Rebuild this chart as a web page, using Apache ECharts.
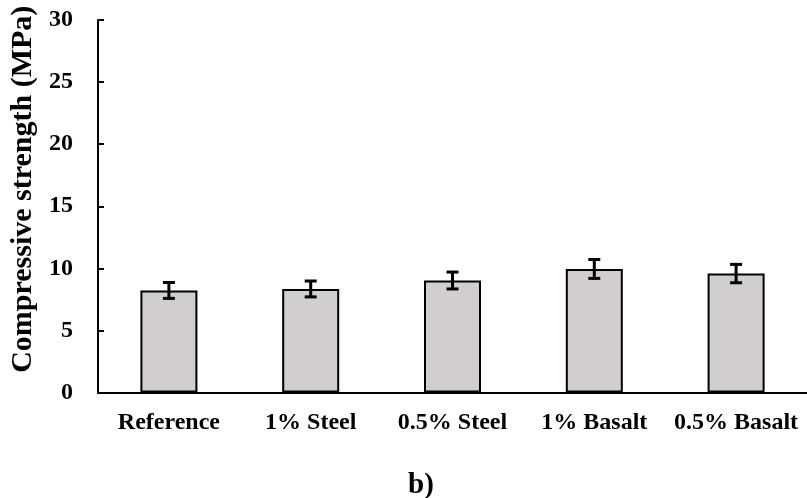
<!DOCTYPE html>
<html>
<head>
<meta charset="utf-8">
<script src="https://cdn.jsdelivr.net/npm/echarts@6/dist/echarts.min.js"></script>
<style>
html,body{margin:0;padding:0;background:#fff;}
#chart{width:807px;height:498px;}
</style>
</head>
<body>
<div id="chart"></div>
<script>
const categories = ['Reference', '1% Steel', '0.5% Steel', '1% Basalt', '0.5% Basalt'];
const strengthValues = [8.22, 8.34, 9.02, 9.95, 9.58];
const errorValues = [0.64, 0.64, 0.68, 0.76, 0.74];
const yTicks = [0, 5, 10, 15, 20, 25, 30];

const FONT = '"Liberation Serif", "Times New Roman", serif';
const chart = echarts.init(document.getElementById('chart'), null, {renderer: 'canvas'});

const errorData = categories.map((c, i) => [i, strengthValues[i] - errorValues[i], strengthValues[i] + errorValues[i]]);

chart.setOption({
  animation: false,
  backgroundColor: '#ffffff',
  title: {
    text: 'b)',
    left: 403,
    top: 466,
    textStyle: {fontFamily: FONT, fontWeight: 'bold', fontSize: 29, color: '#000'}
  },
  grid: {left: 97, right: -7, top: 20, bottom: 105.5, containLabel: false},
  xAxis: {
    type: 'category',
    data: categories,
    axisLine: {lineStyle: {color: '#000', width: 2}},
    axisTick: {show: false},
    axisLabel: {
      margin: 18,
      fontFamily: FONT, fontWeight: 'bold', fontSize: 24, color: '#000',
      interval: 0
    }
  },
  yAxis: {
    type: 'value',
    min: yTicks[0],
    max: yTicks[yTicks.length - 1],
    interval: 5,
    name: 'Compressive strength (MPa)',
    nameLocation: 'middle',
    nameGap: 60,
    nameTextStyle: {fontFamily: FONT, fontWeight: 'bold', fontSize: 30, color: '#000', padding: [0, 0, 0, 34]},
    splitLine: {show: false},
    axisLine: {show: true, lineStyle: {color: '#000', width: 2}},
    axisTick: {show: true, inside: true, length: 6, lineStyle: {color: '#000', width: 2}},
    axisLabel: {margin: 25, fontFamily: FONT, fontWeight: 'bold', fontSize: 24, color: '#000'}
  },
  series: [
    {
      type: 'bar',
      data: strengthValues,
      barWidth: 57,
      itemStyle: {color: '#d0cece', borderColor: '#000', borderWidth: 2}
    },
    {
      type: 'custom',
      data: errorData,
      z: 10,
      renderItem: function (params, api) {
        const x = api.value(0);
        const lo = api.coord([x, api.value(1)]);
        const hi = api.coord([x, api.value(2)]);
        const hw = 6;
        const st = {stroke: '#000', lineWidth: 3};
        return {
          type: 'group',
          children: [
            {type: 'line', shape: {x1: lo[0], y1: lo[1], x2: hi[0], y2: hi[1]}, style: st},
            {type: 'line', shape: {x1: lo[0] - hw, y1: lo[1], x2: lo[0] + hw, y2: lo[1]}, style: st},
            {type: 'line', shape: {x1: hi[0] - hw, y1: hi[1], x2: hi[0] + hw, y2: hi[1]}, style: st}
          ]
        };
      }
    }
  ]
});
</script>
</body>
</html>
